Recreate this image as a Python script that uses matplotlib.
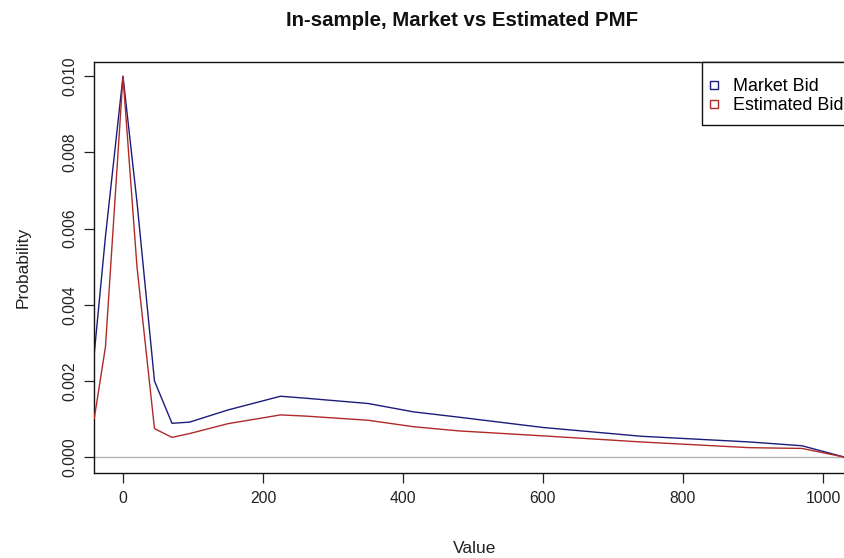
import matplotlib
matplotlib.use("Agg")
import matplotlib.pyplot as plt
from matplotlib.lines import Line2D
from matplotlib.patches import Rectangle

# Data
values = [-41, -25, 0, 20, 45, 70, 95, 150, 225, 260, 350, 415, 480, 600, 740, 895, 970, 1031]
market_bid = [0.00273, 0.0058, 0.0100, 0.0067, 0.0020, 0.00089, 0.00092, 0.00124, 0.00160,
              0.00155, 0.00141, 0.00119, 0.00105, 0.00078, 0.00055, 0.00040, 0.00030, 0.0]
estimated_bid = [0.00102, 0.0029, 0.0100, 0.0050, 0.00075, 0.00052, 0.00062, 0.00088, 0.00111,
                 0.00108, 0.00097, 0.00080, 0.00069, 0.00056, 0.00040, 0.00025, 0.00023, 0.0]
x_ticks = [0, 200, 400, 600, 800, 1000]
y_ticks = [0.000, 0.002, 0.004, 0.006, 0.008, 0.010]
series_labels = ["Market Bid", "Estimated Bid"]
series_colors = ["#1c1c7a", "#b02a2a"]

plt.rcParams['font.family'] = ['Liberation Sans', 'DejaVu Sans']

W, H = 845, 558
fig = plt.figure(figsize=(W / 100, H / 100), dpi=100)
left, right, top, bottom = 94, 855, 62, 473
aw, ah = right - left, bottom - top
ax = fig.add_axes([left / W, 1 - bottom / H, aw / W, ah / H])

ax.axhline(0, color="#b4b4b4", lw=1.0, zorder=1)
ax.plot(values, market_bid, color=series_colors[0], lw=1.0, zorder=2)
ax.plot(values, estimated_bid, color=series_colors[1], lw=1.0, zorder=3)

ax.set_xlim(-41.4, (right - 123) / 0.7)
ax.set_ylim(-0.000415, 0.010375)

ax.set_xticks(x_ticks)
ax.set_xticklabels([str(v) for v in x_ticks])
ax.set_yticks(y_ticks)
ax.set_yticklabels([f"{v:.3f}" for v in y_ticks], rotation=90, va="center")
ax.tick_params(direction="out", length=7, width=0.9, labelsize=11.3, colors="#222222", pad=6)
ax.tick_params(axis="y", pad=5)
for s in ax.spines.values():
    s.set_linewidth(1.0)
    s.set_color("#111111")

ax.set_xlabel("Value", fontsize=12.5, labelpad=25, color="#222222")
ax.set_ylabel("Probability", fontsize=12.5, labelpad=23, color="#222222")
fig.text(462 / W, 1 - 20 / H, "In-sample, Market vs Estimated PMF", ha="center", va="center",
         fontsize=14.7, fontweight="bold", color="#111111")

# legend frame (R-style box)
box_left_px, box_bottom_px = 702, 125
ax.add_patch(Rectangle(((box_left_px - left) / aw, (bottom - box_bottom_px) / ah),
                       1.05 - (box_left_px - left) / aw, (box_bottom_px - top) / ah,
                       transform=ax.transAxes, facecolor="white", edgecolor="#111111",
                       lw=1.0, zorder=4, clip_on=False))

handles = [Line2D([], [], ls="none", marker="s", markersize=5.5, markerfacecolor="white",
                  markeredgecolor=c, markeredgewidth=1.0) for c in series_colors]
leg = ax.legend(handles, series_labels, loc="upper right",
                bbox_to_anchor=(1, 1 - 4.5 / ah), borderaxespad=0, frameon=False,
                fontsize=12.9, handlelength=0.4, handletextpad=0.86, labelspacing=0.12,
                borderpad=0.65)
leg.set_zorder(5)

fig.savefig("out.png", dpi=100)
